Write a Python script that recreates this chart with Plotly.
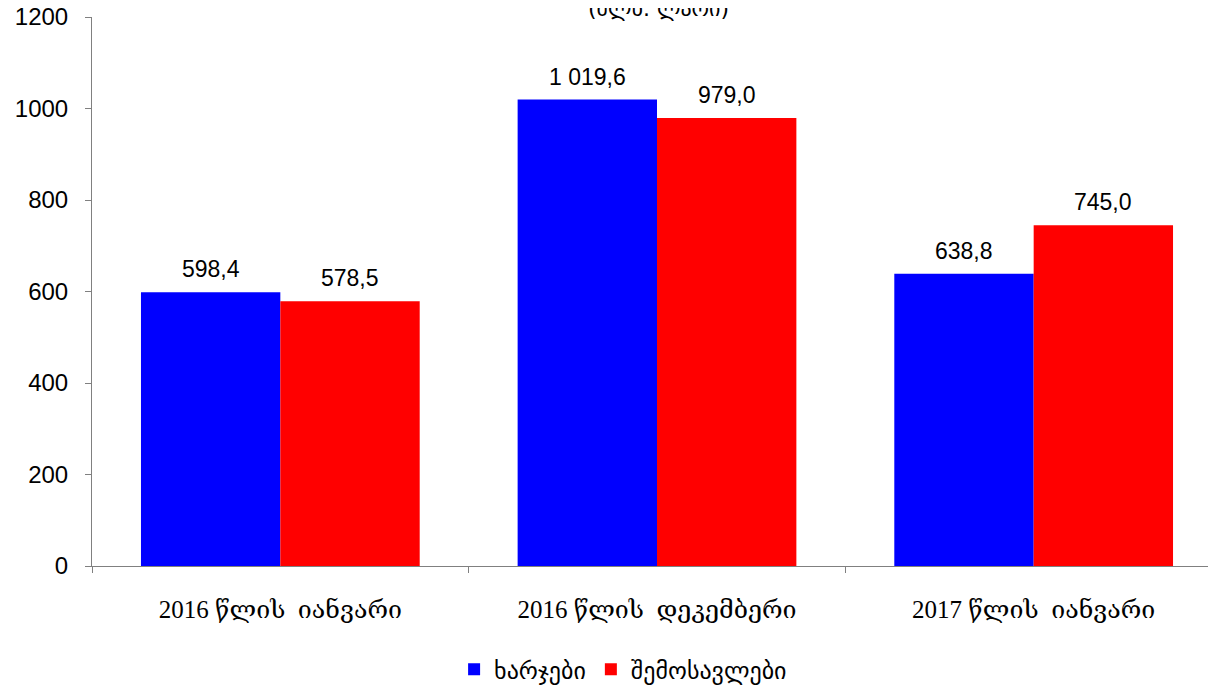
import plotly.graph_objects as go

categories = ["2016 წლის  იანვარი", "2016 წლის  დეკემბერი", "2017 წლის  იანვარი"]
series_names = ["ხარჯები", "შემოსავლები"]
expenses = [598.4, 1019.6, 638.8]
revenues = [578.5, 979.0, 745.0]
expenses_labels = ["598,4", "1 019,6", "638,8"]
revenues_labels = ["578,5", "979,0", "745,0"]
y_ticks = [0, 200, 400, 600, 800, 1000, 1200]
title_text = "(მლნ. ლარი)"

fig = go.Figure()
fig.add_trace(go.Bar(x=categories, y=expenses, name=series_names[0], marker_color="#0000FF",
                     marker_line_width=0))
fig.add_trace(go.Bar(x=categories, y=revenues, name=series_names[1], marker_color="#FF0000",
                     marker_line_width=0))

bar_half = 69.7
for vals, labels, shift in [(expenses, expenses_labels, -bar_half), (revenues, revenues_labels, bar_half)]:
    for c, v, t in zip(categories, vals, labels):
        fig.add_annotation(x=c, y=v, text=t, xref="x", yref="y", xshift=shift, yshift=8,
                           xanchor="center", yanchor="bottom", showarrow=False,
                           font=dict(family="Arial, Liberation Sans", size=23, color="black"))

fig.update_layout(
    width=1216, height=692,
    paper_bgcolor="white", plot_bgcolor="white",
    margin=dict(l=84, r=2, t=9, b=134, autoexpand=False),
    barmode="group", bargap=0.26, bargroupgap=0,
    title=dict(text=title_text, x=0.535, xanchor="center", y=1.0, yref="container", yanchor="middle",
               font=dict(family="DejaVu Sans", size=22, color="black")),
    legend=dict(orientation="h", x=0.47, xanchor="center", y=-0.189, yanchor="middle",
                font=dict(family="DejaVu Sans", size=24, color="black"),
                itemwidth=30, tracegroupgap=0),
    showlegend=True,
)
fig.update_xaxes(
    range=[-0.5, 2.5], showline=True, linecolor="#808080", linewidth=1,
    ticks="outside", tickson="boundaries", ticklen=6, tickcolor="#808080",
    ticklabelstandoff=21,
    tickfont=dict(family="Liberation Serif, DejaVu Serif", size=25, color="black"),
    showgrid=False, automargin=False,
)
fig.update_yaxes(
    range=[0, 1200], tickvals=y_ticks, showline=True, linecolor="#808080", linewidth=1,
    ticks="outside", ticklen=6, tickcolor="#808080", ticklabeloverflow="allow",
    ticklabelstandoff=12,
    tickfont=dict(family="Arial, Liberation Sans", size=24, color="black"),
    showgrid=False, zeroline=False, automargin=False,
)

fig.write_html("out.html")
